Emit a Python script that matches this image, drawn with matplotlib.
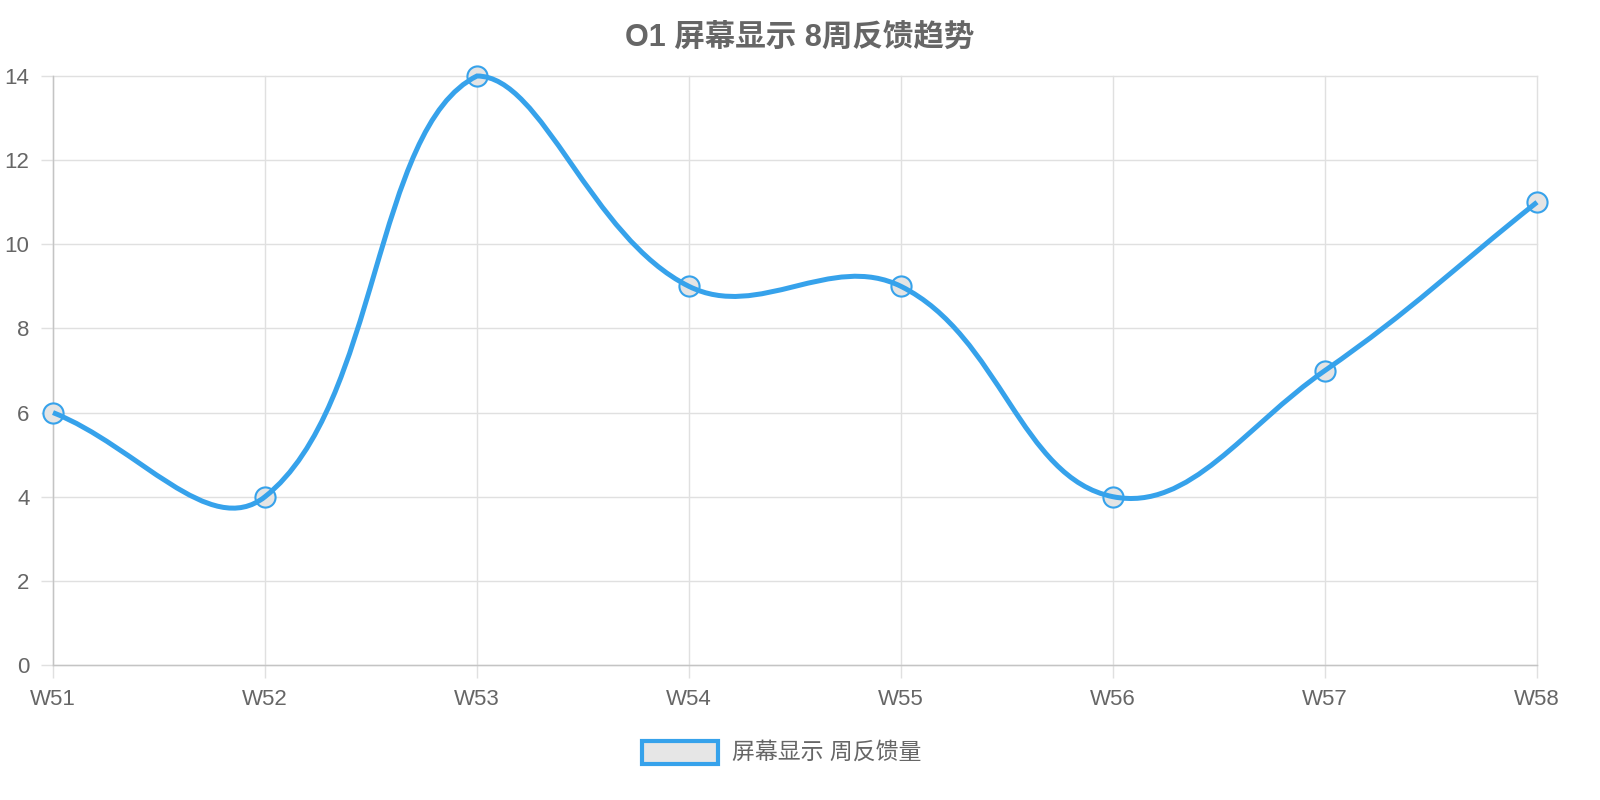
import numpy as np
import matplotlib
matplotlib.use('Agg')
from matplotlib import pyplot as plt
from matplotlib.path import Path
from matplotlib.patches import PathPatch, Rectangle

plt.rcParams['font.family'] = ['Liberation Sans', 'Noto Sans CJK SC', 'DejaVu Sans']

weeks = ['W51', 'W52', 'W53', 'W54', 'W55', 'W56', 'W57', 'W58']
counts = [6, 4, 14, 9, 9, 4, 7, 11]
title = 'O1 屏幕显示 8周反馈趋势'
legend_label = '屏幕显示 周反馈量'

blue = '#36A2EB'
text_gray = '#666666'
W, H = 1600, 800

fig = plt.figure(figsize=(16, 8), dpi=100)
ax = fig.add_axes([53 / W, 1 - 665 / H, (1537 - 53) / W, (665 - 76) / H])
x = np.arange(len(weeks))
ax.set_xlim(0, len(weeks) - 1)
ax.set_ylim(0, 14)
ax.set_xticks(x)
ax.set_xticklabels(weeks)
ax.set_yticks(np.arange(0, 15, 2))
ax.tick_params(colors=text_gray, labelsize=16, length=9, width=1, pad=8, color='#e0e0e0')
ax.grid(True, color='#e0e0e0', linewidth=1)
for gl in ax.get_xgridlines() + ax.get_ygridlines():
    gl.set_clip_on(False)
ax.set_axisbelow(True)
for side in ['top', 'right']:
    ax.spines[side].set_visible(False)
for side in ['left', 'bottom']:
    ax.spines[side].set_color('#c4c4c4')
    ax.spines[side].set_linewidth(1)

# spline like chart.js (tension 0.4), computed in pixel space
tension = 0.4
pts = ax.transData.transform(np.column_stack([x, counts]))
bb = ax.bbox
n = len(pts)
cp_prev = np.zeros_like(pts)
cp_next = np.zeros_like(pts)
for i in range(n):
    p0 = pts[max(i - 1, 0)]
    p1 = pts[i]
    p2 = pts[min(i + 1, n - 1)]
    d01 = np.hypot(*(p1 - p0))
    d12 = np.hypot(*(p2 - p1))
    tot = d01 + d12
    s01 = d01 / tot if tot else 0
    s12 = d12 / tot if tot else 0
    cp_prev[i] = p1 - tension * s01 * (p2 - p0)
    cp_next[i] = p1 + tension * s12 * (p2 - p0)
for c in (cp_prev, cp_next):
    c[:, 0] = np.clip(c[:, 0], bb.x0, bb.x1)
    c[:, 1] = np.clip(c[:, 1], bb.y0, bb.y1)

verts = [pts[0]]
codes = [Path.MOVETO]
for i in range(n - 1):
    verts += [cp_next[i], cp_prev[i + 1], pts[i + 1]]
    codes += [Path.CURVE4] * 3
inv = ax.transData.inverted()
path = Path(inv.transform(np.array(verts)), codes)
ax.add_patch(PathPatch(path, facecolor='none', edgecolor=blue, linewidth=3.6,
                       zorder=4, clip_on=False, capstyle='butt'))
ax.plot(x, counts, linestyle='none', marker='o', markersize=14.5,
        markerfacecolor='#e4e4e4', markeredgecolor=blue, markeredgewidth=1.5,
        zorder=3, clip_on=False)

fig.text(0.5, 1 - 38 / H, title, ha='center', va='center', fontsize=22,
         fontweight='bold', color=text_gray)

# legend
fig.add_artist(Rectangle((642 / W, 1 - 764 / H), 76 / W, 23 / H, transform=fig.transFigure,
                         facecolor='#e6e6e6', edgecolor=blue, linewidth=3))
fig.text(732 / W, 1 - 752 / H, legend_label, ha='left', va='center', fontsize=16.5,
         color=text_gray)

plt.savefig('out.png')
